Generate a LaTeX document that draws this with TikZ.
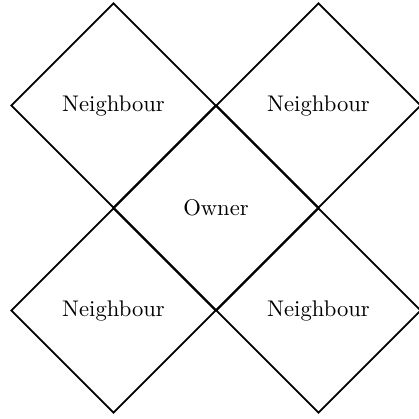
\documentclass[tikz,border=0pt]{standalone}
\usepackage{tikz}
\usetikzlibrary{shapes.geometric}
\tikzset{
  cell/.style={draw, diamond, aspect=1, minimum width=3.186cm, minimum height=3.186cm,
               inner sep=0pt, thick, font=\normalsize}
}

\begin{document}
\begin{tikzpicture}[x=0.01554cm, y=-0.01554cm]
% frame of the picture
\useasboundingbox (0,0) rectangle (419,419);

% ---- owner in the middle ----
\node[cell] (owner) at (216,208) {Owner};

% ---- neighbours on the corners ----
\node[cell] (nbTL) at (113.5,105.5) {Neighbour};
\node[cell] (nbTR) at (318.5,105.5) {Neighbour};
\node[cell] (nbBL) at (113.5,310.5) {Neighbour};
\node[cell] (nbBR) at (318.5,310.5) {Neighbour};
\end{tikzpicture}
\end{document}
